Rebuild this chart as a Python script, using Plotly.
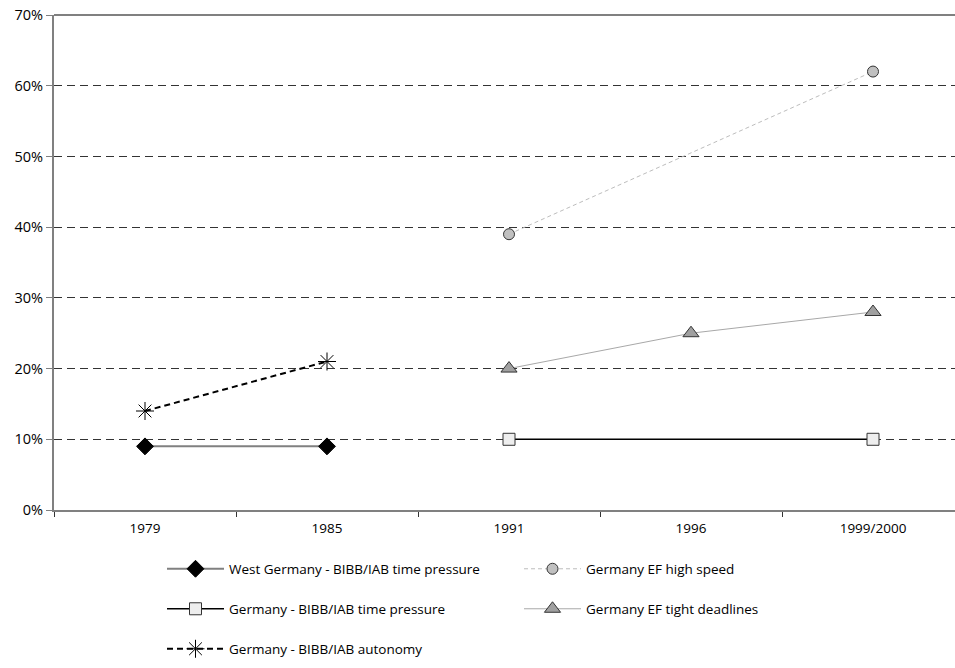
import plotly.graph_objects as go

categories = ["1979", "1985", "1991", "1996", "1999/2000"]
y_ticks = [0, 10, 20, 30, 40, 50, 60, 70]
y_tick_text = ["0%", "10%", "20%", "30%", "40%", "50%", "60%", "70%"]

wg_tp_x = ["1979", "1985"]
wg_tp = [9, 9]

de_tp_x = ["1991", "1999/2000"]
de_tp = [10, 10]

aut_x = ["1979", "1985"]
aut = [14, 21]

hs_x = ["1991", "1999/2000"]
hs = [39, 62]

td_x = ["1991", "1996", "1999/2000"]
td = [20, 25, 28]

FONT = "Open Sans, Noto Sans, DejaVu Sans, sans-serif"
FS = 13.5

fig = go.Figure()

fig.add_trace(go.Scatter(
    x=wg_tp_x, y=wg_tp, mode="lines+markers",
    name="West Germany - BIBB/IAB time pressure",
    line=dict(color="#808080", width=2),
    marker=dict(symbol="diamond", size=13, color="black", line=dict(color="black", width=1)),
    legend="legend"))

fig.add_trace(go.Scatter(
    x=hs_x, y=hs, mode="lines+markers",
    name="Germany EF high speed",
    line=dict(color="#bdbdbd", width=1, dash="4px,3px"),
    marker=dict(symbol="circle", size=11, color="#c0c0c0", line=dict(color="#333333", width=1)),
    legend="legend2"))

fig.add_trace(go.Scatter(
    x=de_tp_x, y=de_tp, mode="lines+markers",
    name="Germany - BIBB/IAB time pressure",
    line=dict(color="black", width=1.5),
    marker=dict(symbol="square", size=12, color="#eeeeee", line=dict(color="#333333", width=1)),
    legend="legend3"))

fig.add_trace(go.Scatter(
    x=td_x, y=td, mode="lines+markers",
    name="Germany EF tight deadlines",
    line=dict(color="#a8a8a8", width=1),
    marker=dict(symbol="triangle-up", size=14, color="#a0a0a0", line=dict(color="#333333", width=1)),
    legend="legend4"))

fig.add_trace(go.Scatter(
    x=aut_x, y=aut, mode="lines+markers",
    name="Germany - BIBB/IAB autonomy",
    line=dict(color="black", width=2, dash="6px,4px"),
    marker=dict(symbol="asterisk-open", size=15, color="black", line=dict(color="black", width=1)),
    legend="legend5"))

W, H = 955, 668
L, T = 54, 15
PH = 495
B = H - T - PH
PW = W - L

def px_x(sx):
    return (sx - L) / PW

def px_y(sy):
    return (H - B - sy) / PH

legend_font = dict(family=FONT, size=FS, color="black")
def leg(x, y):
    return dict(x=px_x(x), y=px_y(y), xanchor="left", yanchor="middle",
                bgcolor="rgba(0,0,0,0)", borderwidth=0, font=legend_font,
                itemwidth=57)

fig.update_layout(
    width=W, height=H,
    margin=dict(l=L, r=0, t=T, b=B, autoexpand=False),
    paper_bgcolor="white", plot_bgcolor="white",
    font=dict(family=FONT, size=FS, color="black"),
    showlegend=True,
    legend=leg(162, 569),
    legend2=leg(519, 569),
    legend3=leg(162, 609),
    legend4=leg(519, 609),
    legend5=leg(162, 649),
    xaxis=dict(
        type="category", categoryorder="array", categoryarray=categories,
        range=[-0.5, -0.5 + PW / 182.0],
        tickvals=categories, ticktext=categories,
        tickson="boundaries", ticks="outside", ticklen=5, tickwidth=1, tickcolor="#333333",
        ticklabelstandoff=5,
        showline=True, linecolor="#808080", linewidth=2,
        showgrid=False, zeroline=False,
        tickfont=dict(family=FONT, size=FS, color="black"),
    ),
    yaxis=dict(
        range=[0, 70], tickvals=y_ticks, ticktext=y_tick_text,
        ticks="outside", ticklen=6, tickwidth=1, tickcolor="#808080",
        ticklabeloverflow="allow",
        showline=True, linecolor="#808080", linewidth=2,
        showgrid=True, gridcolor="#333333", gridwidth=1, griddash="8px,5px",
        zeroline=False,
        tickfont=dict(family=FONT, size=14.5, color="black"),
    ),
    shapes=[dict(type="line", xref="paper", yref="paper", x0=0, x1=1, y0=1, y1=1,
                 line=dict(color="#808080", width=2), layer="above")],
)

fig.write_html(
    "out.html",
    config={"displayModeBar": False},
    post_script="document.body.style.margin='0';document.body.style.overflow='hidden';",
)
